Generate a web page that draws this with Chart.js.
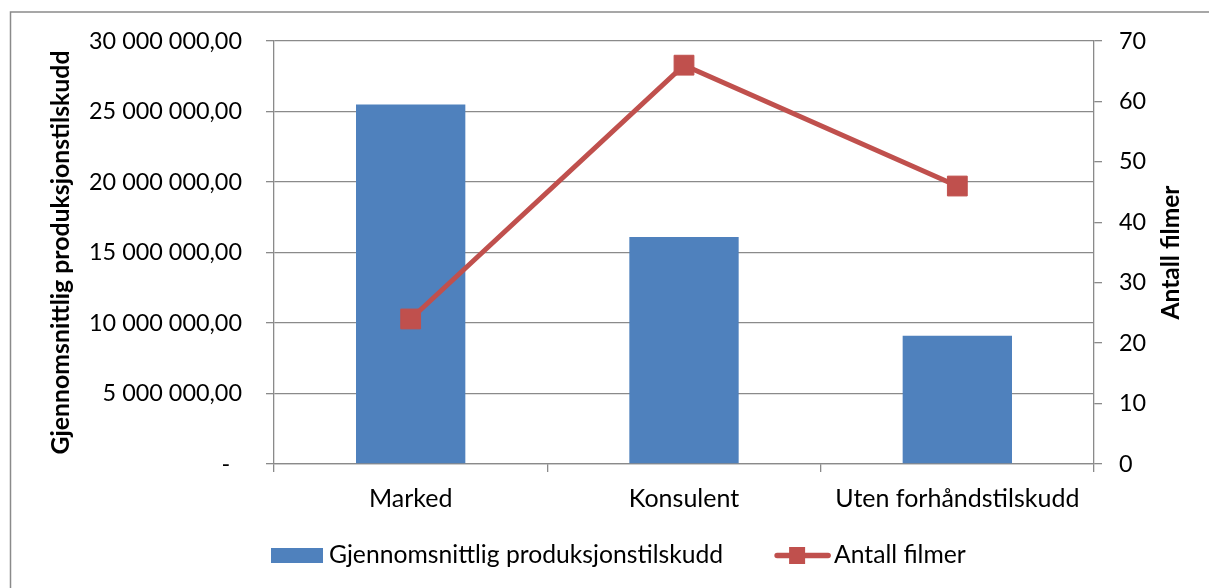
<!DOCTYPE html>
<html>
<head>
<meta charset="utf-8">
<script src="https://cdn.jsdelivr.net/npm/chart.js"></script>
<style>
  html, body { margin: 0; padding: 0; background: #fff; overflow: hidden; }
  #wrap { width: 1209px; height: 588px; position: relative; }
</style>
</head>
<body>
<div id="wrap"><canvas id="chart" width="1209" height="588"></canvas></div>
<script>
const categories = ["Marked", "Konsulent", "Uten forhåndstilskudd"];
const avgGrant = [25500000, 16100000, 9100000];
const filmCount = [24, 66, 46];

const barLabel = "Gjennomsnittlig produksjonstilskudd";
const lineLabel = "Antall filmer";

const BAR_COLOR = "#4F81BD";
const LINE_COLOR = "#C0504D";
const GRID = "#8a8a8a";
const FONT = "Lato";

function formatAmount(v) {
  if (v === 0) return "-\u2002";
  return String(v).replace(/\B(?=(\d{3})+(?!\d))/g, " ") + ",00";
}

// outer frame of the chart object
const framePlugin = {
  id: "frame",
  beforeDraw(chart) {
    const ctx = chart.ctx;
    ctx.save();
    ctx.fillStyle = "#fff";
    ctx.fillRect(0, 0, chart.width, chart.height);
    ctx.strokeStyle = GRID;
    ctx.lineWidth = 1.5;
    ctx.strokeRect(10.5, 12, chart.width + 50, chart.height + 50);
    ctx.restore();
  }
};

// right axis title, read bottom-to-top like the left one
const rightTitlePlugin = {
  id: "rightTitle",
  afterDraw(chart) {
    const ctx = chart.ctx;
    const area = chart.chartArea;
    ctx.save();
    ctx.translate(1171, (area.top + area.bottom) / 2);
    ctx.rotate(-Math.PI / 2);
    ctx.font = "bold 24.5px " + FONT;
    ctx.fillStyle = "#000";
    ctx.textAlign = "center";
    ctx.textBaseline = "middle";
    ctx.fillText(lineLabel, 0, 0);
    ctx.restore();
  }
};

// legend under the x axis: bar swatch, then line with square marker
const legendPlugin = {
  id: "bottomLegend",
  afterDraw(chart) {
    const ctx = chart.ctx;
    const ds = chart.data.datasets;
    const base = 563;
    const mid = 555.5;
    ctx.save();
    ctx.font = "24.7px " + FONT;
    ctx.textBaseline = "alphabetic";

    let x = 271;
    ctx.fillStyle = ds[0].backgroundColor;
    ctx.fillRect(x, 548, 52, 15);
    x += 58;
    ctx.fillStyle = "#000";
    ctx.fillText(ds[0].label, x, base);
    x += ctx.measureText(ds[0].label).width + 52;

    ctx.strokeStyle = ds[1].borderColor;
    ctx.lineWidth = 5.5;
    ctx.lineCap = "round";
    ctx.beginPath();
    ctx.moveTo(x + 2, mid);
    ctx.lineTo(x + 53, mid);
    ctx.stroke();
    ctx.fillStyle = ds[1].pointBackgroundColor;
    ctx.fillRect(x + 14, mid - 8.5, 16, 17);
    x += 59;
    ctx.fillStyle = "#000";
    ctx.fillText(ds[1].label, x, base);
    ctx.restore();
  }
};

new Chart(document.getElementById("chart").getContext("2d"), {
  type: "bar",
  data: {
    labels: categories,
    datasets: [
      {
        type: "bar",
        label: barLabel,
        data: avgGrant,
        backgroundColor: BAR_COLOR,
        yAxisID: "y",
        categoryPercentage: 1,
        barPercentage: 0.4,
        order: 1
      },
      {
        type: "line",
        label: lineLabel,
        data: filmCount,
        borderColor: LINE_COLOR,
        borderWidth: 5,
        pointStyle: "rect",
        pointRadius: 14,
        pointBackgroundColor: LINE_COLOR,
        pointBorderColor: LINE_COLOR,
        pointBorderWidth: 1,
        tension: 0,
        yAxisID: "y1",
        order: 0
      }
    ]
  },
  options: {
    responsive: false,
    animation: false,
    events: [],
    layout: { padding: { top: 41, bottom: 64, left: 0, right: 0 } },
    plugins: {
      legend: { display: false },
      tooltip: { enabled: false }
    },
    scales: {
      x: {
        afterFit(scale) { scale.height = 60; },
        grid: {
          offset: true,
          drawOnChartArea: false,
          drawTicks: true,
          tickLength: 8,
          color: GRID,
          lineWidth: 1.3
        },
        border: { display: true, color: GRID, width: 1.3 },
        ticks: {
          color: "#000",
          padding: 12,
          maxRotation: 0,
          font: { family: FONT, size: 25 }
        }
      },
      y: {
        position: "left",
        min: 0,
        max: 30000000,
        afterFit(scale) { scale.width = 274; },
        grid: {
          drawTicks: true,
          tickLength: 8,
          color: GRID,
          lineWidth: 1.3
        },
        border: { display: true, color: GRID, width: 1.3 },
        ticks: {
          stepSize: 5000000,
          color: "#000",
          padding: 24,
          font: { family: FONT, size: 23.4 },
          callback: (v) => formatAmount(v)
        },
        title: {
          display: true,
          text: barLabel,
          color: "#000",
          padding: { top: 46 },
          font: { family: FONT, size: 24.8, weight: "bold" }
        }
      },
      y1: {
        position: "right",
        min: 0,
        max: 70,
        afterFit(scale) { scale.width = 115; },
        grid: {
          drawOnChartArea: false,
          drawTicks: true,
          tickLength: 8,
          color: GRID,
          lineWidth: 1.3
        },
        border: { display: true, color: GRID, width: 1.3 },
        ticks: {
          stepSize: 10,
          color: "#000",
          padding: 17,
          font: { family: FONT, size: 23.4 }
        }
      }
    }
  },
  plugins: [framePlugin, rightTitlePlugin, legendPlugin]
});
</script>
</body>
</html>
